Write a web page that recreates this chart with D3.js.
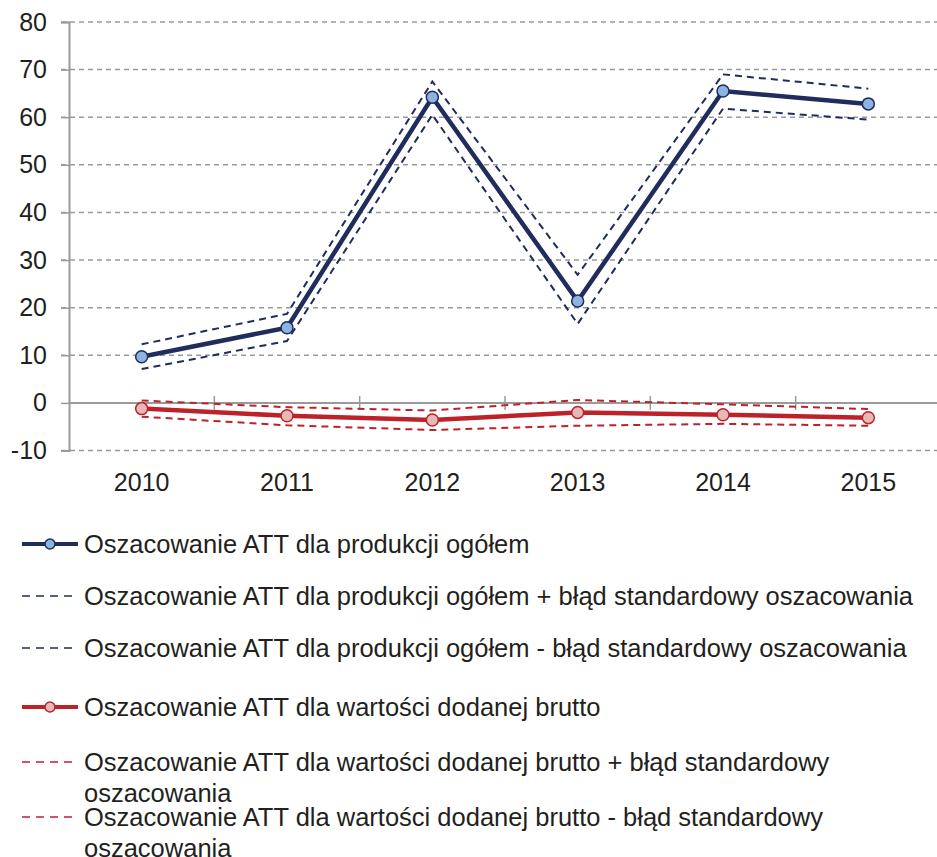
<!DOCTYPE html>
<html>
<head>
<meta charset="utf-8">
<script src="https://cdn.jsdelivr.net/npm/d3@7"></script>
<style>
  body { margin: 0; background: #fff; }
  text { font-family: "Liberation Sans", Arial, sans-serif; fill: #231f20; }
</style>
</head>
<body>
<div class="container"></div>
<script>
var years = ["2010", "2011", "2012", "2013", "2014", "2015"];
var yTicks = [-10, 0, 10, 20, 30, 40, 50, 60, 70, 80];

var prodAtt   = [9.7, 15.8, 64.2, 21.4, 65.5, 62.8];
var prodUpper = [12.3, 18.7, 67.5, 26.9, 69.0, 66.0];
var prodLower = [7.1, 13.0, 60.5, 16.6, 61.8, 59.5];

var gvaAtt   = [-1.2, -2.7, -3.6, -2.0, -2.5, -3.1];
var gvaUpper = [0.5, -0.9, -1.6, 0.6, -0.3, -1.3];
var gvaLower = [-2.9, -4.7, -5.7, -4.8, -4.4, -4.8];

var legendLabels = [
  "Oszacowanie ATT dla produkcji ogółem",
  "Oszacowanie ATT dla produkcji ogółem + błąd standardowy oszacowania",
  "Oszacowanie ATT dla produkcji ogółem - błąd standardowy oszacowania",
  "Oszacowanie ATT dla wartości dodanej brutto",
  "Oszacowanie ATT dla wartości dodanej brutto + błąd standardowy oszacowania",
  "Oszacowanie ATT dla wartości dodanej brutto - błąd standardowy oszacowania"
];

const WIDTH = 937;
const HEIGHT = 857;
const NAVY = "#1f2c5c";
const RED = "#be2229";
const GRID = "#9a9a9a";

var series = [
  {values: prodAtt, color: NAVY, fill: "#8db3e2", main: true},
  {values: prodUpper, color: NAVY, main: false},
  {values: prodLower, color: NAVY, main: false},
  {values: gvaAtt, color: RED, fill: "#e6b8b7", main: true},
  {values: gvaUpper, color: RED, main: false},
  {values: gvaLower, color: RED, main: false}
];

var svg = d3.select(".container").append("svg")
  .attr("width", WIDTH)
  .attr("height", HEIGHT);

var xScale = d3.scalePoint()
  .domain(years)
  .range([69, 941])
  .padding(0.5);

var yScale = d3.scaleLinear()
  .domain([-10, 80])
  .range([450.5, 22]);

// grid
svg.append("g").selectAll("line").data(yTicks.filter(function(d){ return d !== 0; }))
  .enter().append("line")
  .attr("x1", 61).attr("x2", WIDTH)
  .attr("y1", function(d){ return yScale(d); })
  .attr("y2", function(d){ return yScale(d); })
  .attr("stroke", GRID)
  .attr("stroke-width", 1.5)
  .attr("stroke-dasharray", "5,4");

// y axis
var yAxis = d3.axisLeft(yScale).tickValues(yTicks).tickSize(8).tickPadding(14)
  .tickFormat(function(d){ return String(d); });
var yg = svg.append("g")
  .attr("transform", "translate(69,0)")
  .call(yAxis);
yg.select(".domain").attr("stroke", GRID).attr("stroke-width", 2);
yg.selectAll(".tick line").attr("stroke", GRID).attr("stroke-width", 1.5);
yg.selectAll(".tick text").attr("font-size", "25px").attr("fill", "#231f20")
  .style("font-family", "'Liberation Sans', Arial, sans-serif");

// zero line with category boundary ticks
svg.append("line")
  .attr("x1", 69).attr("x2", WIDTH)
  .attr("y1", yScale(0)).attr("y2", yScale(0))
  .attr("stroke", GRID).attr("stroke-width", 2);

var step = xScale.step();
svg.append("g").selectAll("line").data(years.slice(1))
  .enter().append("line")
  .attr("x1", function(d){ return xScale(d) - step / 2; })
  .attr("x2", function(d){ return xScale(d) - step / 2; })
  .attr("y1", yScale(0) - 7).attr("y2", yScale(0) + 7)
  .attr("stroke", GRID).attr("stroke-width", 1.5);

// x labels
svg.append("g").selectAll("text").data(years)
  .enter().append("text")
  .attr("x", function(d){ return xScale(d); })
  .attr("y", 491)
  .attr("text-anchor", "middle")
  .attr("font-size", "25px")
  .text(function(d){ return d; });

var line = d3.line()
  .x(function(d, i){ return xScale(years[i]); })
  .y(function(d){ return yScale(d); });

var order = [1, 2, 4, 5, 0, 3];
order.forEach(function(k){
  var s = series[k];
  svg.append("path")
    .attr("d", line(s.values))
    .attr("fill", "none")
    .attr("stroke", s.color)
    .attr("stroke-width", s.main ? 4.5 : 2)
    .attr("stroke-dasharray", s.main ? null : "7,5");
  if (s.main) {
    svg.append("g").selectAll("circle").data(s.values)
      .enter().append("circle")
      .attr("cx", function(d, i){ return xScale(years[i]); })
      .attr("cy", function(d){ return yScale(d); })
      .attr("r", 6)
      .attr("fill", s.fill)
      .attr("stroke", s.color)
      .attr("stroke-width", 1.5);
  }
});

// legend
var rowY = [544, 596, 648, 707, 762, 817];
var legend = svg.append("g");
series.forEach(function(s, i){
  var g = legend.append("g").attr("transform", "translate(0," + rowY[i] + ")");
  if (s.main) {
    g.append("line").attr("x1", 22).attr("x2", 78).attr("y1", 0).attr("y2", 0)
      .attr("stroke", s.color).attr("stroke-width", 4);
    g.append("circle").attr("cx", 50).attr("cy", 0).attr("r", 5)
      .attr("fill", s.fill).attr("stroke", s.color).attr("stroke-width", 1.5);
  } else {
    g.append("line").attr("x1", 22).attr("x2", 74).attr("y1", 0).attr("y2", 0)
      .attr("stroke", s.color).attr("stroke-width", 1.5)
      .attr("stroke-dasharray", "8,6");
  }
  var t = g.append("text")
    .attr("x", 84)
    .attr("y", 9)
    .attr("font-size", "25.5px");
  var words = legendLabels[i].split(" ");
  var tspan = t.append("tspan").attr("x", 84).attr("dy", 0);
  var cur = [];
  words.forEach(function(w){
    cur.push(w);
    tspan.text(cur.join(" "));
    if (tspan.node().getComputedTextLength() > 850 && cur.length > 1) {
      cur.pop();
      tspan.text(cur.join(" "));
      cur = [w];
      tspan = t.append("tspan").attr("x", 84).attr("dy", 31).text(w);
    }
  });
});
</script>
</body>
</html>
